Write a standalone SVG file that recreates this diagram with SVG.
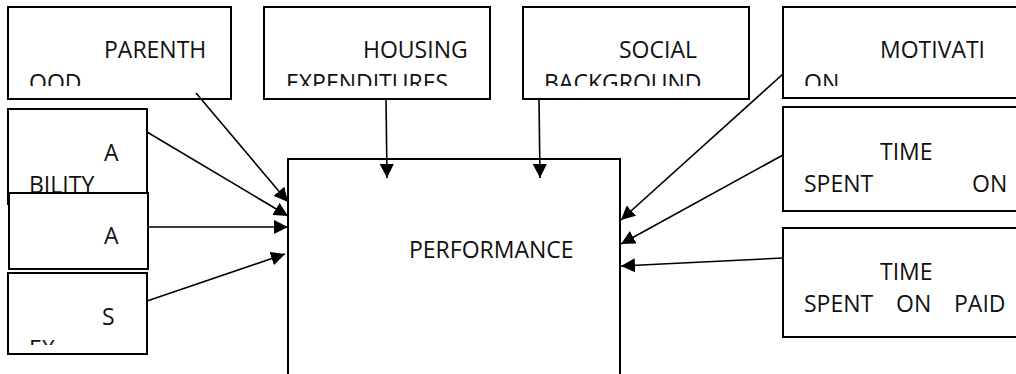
<svg xmlns="http://www.w3.org/2000/svg" width="1016" height="374" viewBox="0 0 1016 374">
  <style>
    .box { fill: #ffffff; stroke: #000000; stroke-width: 2; }
    .lbl { font-family: "Open Sans", "Liberation Sans", sans-serif; font-size: 23px; fill: #111111; }
    .conn { stroke: #000000; stroke-width: 1.6; fill: none; marker-end: url(#arrow); }
  </style>
  <defs>
    <marker id="arrow" markerUnits="userSpaceOnUse" markerWidth="15" markerHeight="14" refX="14" refY="7" orient="auto">
      <path d="M0,0 L14,7 L0,14 z" fill="#000000"/>
    </marker>
    <clipPath id="clipTop"><rect x="0" y="0" width="1016" height="86"/></clipPath>
    <clipPath id="clipAbility"><rect x="0" y="100" width="200" height="92"/></clipPath>
    <clipPath id="clipSex"><rect x="0" y="270" width="200" height="75"/></clipPath>
  </defs>

  <rect width="1016" height="374" fill="#ffffff"/>

  <g id="node-performance">
    <rect class="box" x="288" y="159" width="332" height="230"/>
    <text class="lbl" x="409" y="258">PERFORMANCE</text>
  </g>

  <g id="node-parenthood">
    <rect class="box" x="8" y="7" width="223" height="92"/>
    <text class="lbl" x="104" y="58">PARENTH</text>
    <text class="lbl" x="29" y="91" clip-path="url(#clipTop)">OOD</text>
  </g>

  <g id="node-housing">
    <rect class="box" x="264" y="7" width="226" height="92"/>
    <text class="lbl" x="363" y="58">HOUSING</text>
    <text class="lbl" x="286" y="91" clip-path="url(#clipTop)">EXPENDITURES</text>
  </g>

  <g id="node-social">
    <rect class="box" x="523" y="7" width="226" height="92"/>
    <text class="lbl" x="619" y="58">SOCIAL</text>
    <text class="lbl" x="544" y="91" clip-path="url(#clipTop)">BACKGROUND</text>
  </g>

  <g id="node-motivation">
    <rect class="box" x="783" y="7" width="250" height="91"/>
    <text class="lbl" x="880" y="58">MOTIVATI</text>
    <text class="lbl" x="804" y="91" clip-path="url(#clipTop)">ON</text>
  </g>

  <g id="node-ability">
    <rect class="box" x="8" y="109" width="139" height="95"/>
    <text class="lbl" x="104" y="161">A</text>
    <text class="lbl" x="29" y="193" clip-path="url(#clipAbility)">BILITY</text>
  </g>

  <g id="node-a">
    <rect class="box" x="9" y="193" width="139" height="76"/>
    <text class="lbl" x="104" y="244">A</text>
  </g>

  <g id="node-sex">
    <rect class="box" x="8" y="273" width="139" height="81"/>
    <text class="lbl" x="102" y="325">S</text>
    <text class="lbl" x="29" y="357" clip-path="url(#clipSex)">EX</text>
  </g>

  <g id="node-time-spent-on">
    <rect class="box" x="783" y="107" width="250" height="104"/>
    <text class="lbl" x="880" y="160">TIME</text>
    <text class="lbl" x="804" y="192">SPENT</text>
    <text class="lbl" x="972" y="192">ON</text>
  </g>

  <g id="node-time-spent-paid">
    <rect class="box" x="783" y="228" width="250" height="109"/>
    <text class="lbl" x="880" y="280">TIME</text>
    <text class="lbl" x="804" y="312">SPENT</text>
    <text class="lbl" x="896" y="312">ON</text>
    <text class="lbl" x="954" y="312">PAID</text>
  </g>

  <g id="connectors">
    <line class="conn" x1="196" y1="93" x2="288" y2="202"/>
    <line class="conn" x1="147" y1="132" x2="288" y2="216"/>
    <line class="conn" x1="148" y1="227" x2="288" y2="227"/>
    <line class="conn" x1="147" y1="301" x2="285" y2="254"/>
    <line class="conn" x1="386" y1="99" x2="387" y2="178"/>
    <line class="conn" x1="539" y1="99" x2="540" y2="178"/>
    <line class="conn" x1="783" y1="74" x2="621" y2="220"/>
    <line class="conn" x1="783" y1="155" x2="621" y2="244"/>
    <line class="conn" x1="783" y1="258" x2="621" y2="266"/>
  </g>
</svg>
